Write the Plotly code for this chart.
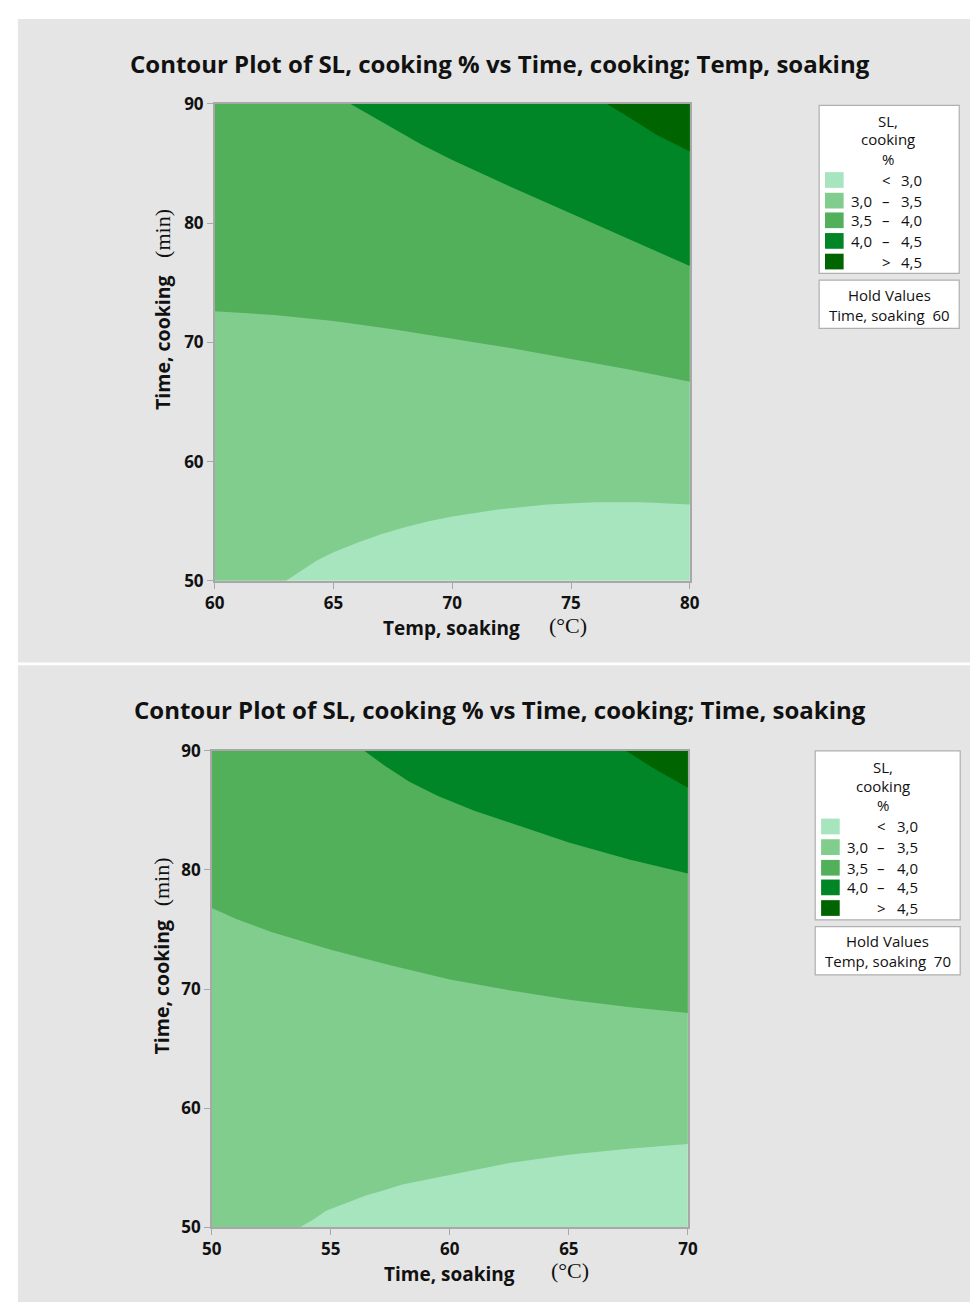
import plotly.graph_objects as go

# ---------------- data ----------------
levels = ["< 3,0", "3,0 – 3,5", "3,5 – 4,0", "4,0 – 4,5", "> 4,5"]
colors = ["#a6e5bd", "#80cd8e", "#52b05b", "#008626", "#006400"]

# top chart: x = Temp, soaking (60-80), y = Time, cooking (50-90), hold Time, soaking 60
top_xr = [60, 80]
top_yr = [50, 90]
top_b30_x = [63.0, 63.6, 64.3, 65.0, 66.0, 67.0, 68.0, 69.0, 70.0, 72.0, 74.0, 76.0, 78.0, 80.0]
top_b30_y = [50.0, 50.8, 51.7, 52.4, 53.2, 53.9, 54.5, 55.0, 55.4, 56.0, 56.4, 56.6, 56.6, 56.4]
top_b35_x = [60.0, 62.5, 65.0, 67.5, 70.0, 72.5, 75.0, 77.5, 80.0]
top_b35_y = [72.6, 72.3, 71.8, 71.1, 70.3, 69.5, 68.6, 67.7, 66.7]
top_b40_x = [65.7, 66.5, 67.5, 68.7, 70.0, 71.2, 72.5, 75.0, 77.5, 80.0]
top_b40_y = [90.0, 89.1, 88.0, 86.6, 85.3, 84.2, 83.0, 80.8, 78.6, 76.4]
top_b45_x = [76.5, 77.5, 78.6, 80.0]
top_b45_y = [90.0, 88.8, 87.4, 86.0]
top_xticks = [60, 65, 70, 75, 80]
top_yticks = [50, 60, 70, 80, 90]

# bottom chart: x = Time, soaking (50-70), y = Time, cooking (50-90), hold Temp, soaking 70
bot_xr = [50, 70]
bot_yr = [50, 90]
bot_b30_x = [53.7, 54.3, 54.8, 55.3, 55.8, 56.5, 57.2, 58.0, 59.0, 60.0, 62.5, 65.0, 67.5, 70.0]
bot_b30_y = [50.0, 50.7, 51.4, 51.8, 52.2, 52.7, 53.1, 53.6, 54.0, 54.4, 55.4, 56.1, 56.6, 57.0]
bot_b35_x = [50.0, 51.0, 52.5, 55.0, 57.5, 60.0, 62.5, 65.0, 67.5, 70.0]
bot_b35_y = [76.8, 75.9, 74.8, 73.3, 72.0, 70.8, 69.9, 69.1, 68.5, 68.0]
bot_b40_x = [56.4, 57.3, 58.3, 59.5, 61.0, 62.5, 65.0, 67.5, 70.0]
bot_b40_y = [90.0, 88.7, 87.4, 86.2, 85.0, 84.0, 82.3, 80.9, 79.7]
bot_b45_x = [67.4, 68.5, 70.0]
bot_b45_y = [90.0, 88.6, 86.9]
bot_xticks = [50, 55, 60, 65, 70]
bot_yticks = [50, 60, 70, 80, 90]

titles = ["Contour Plot of SL, cooking % vs Time, cooking; Temp, soaking",
          "Contour Plot of SL, cooking % vs Time, cooking; Time, soaking"]
xtitles = ["Temp, soaking", "Time, soaking"]
ytitle = "Time, cooking"
xunit = "(°C)"
yunit = "(min)"
hold_texts = ["Time, soaking  60", "Temp, soaking  70"]
legend_title = ["SL,", "cooking", "%"]

# ---------------- layout helpers ----------------
W, H = 980, 1313
SANS = "Open Sans, Noto Sans, sans-serif"
SERIF = "Liberation Serif, Times New Roman, serif"
GRAY = "#e5e5e5"
AX = "#a8a8a8"
INK = "#111111"


def px(x):
    return x / W


def py(y):
    return 1 - y / H


fig = go.Figure()
shapes = []
annotations = []

panels = [
    dict(xr=top_xr, yr=top_yr,
         bounds=[(top_b30_x, top_b30_y, "bottom"), (top_b35_x, top_b35_y, "left"),
                 (top_b40_x, top_b40_y, "top"), (top_b45_x, top_b45_y, "top")],
         xticks=top_xticks, yticks=top_yticks,
         plot=(209, 694, 93.5, 579), panel=(8, 980, 7, 662),
         title_y=52, xt=(451, 627), xu=(570, 624), yt=(155, 336), yu=(155, 225),
         leg=(826, 969, 95, 266), leg_cx=896, leg_ty=[111, 129, 150],
         sw=(832, 851), sw_y=[163, 184, 204, 225, 246], lab=(869.5, 894.5, 920.5),
         hold=(826, 969, 273, 322), hold_cx=898, hold_y=[288, 308]),
    dict(xr=bot_xr, yr=bot_yr,
         bounds=[(bot_b30_x, bot_b30_y, "bottom"), (bot_b35_x, bot_b35_y, "left"),
                 (bot_b40_x, bot_b40_y, "top"), (bot_b45_x, bot_b45_y, "top")],
         xticks=bot_xticks, yticks=bot_yticks,
         plot=(206, 692, 752, 1237), panel=(8, 980, 665, 1313),
         title_y=710, xt=(449, 1284), xu=(572, 1281), yt=(155, 992), yu=(155, 885),
         leg=(822, 970, 752, 924), leg_cx=891, leg_ty=[768, 788, 807],
         sw=(828, 847), sw_y=[821, 842, 863, 883, 904], lab=(865, 889.5, 916.5),
         hold=(822, 970, 931, 980), hold_cx=896, hold_y=[946, 966]),
]

for i, p in enumerate(panels):
    xa = "x" if i == 0 else "x2"
    ya = "y" if i == 0 else "y2"
    x0, x1 = p["xr"]
    y0, y1 = p["yr"]
    # panel background
    a, b, c, d = p["panel"]
    shapes.append(dict(type="rect", xref="paper", yref="paper", x0=px(a), x1=px(b),
                       y0=py(d), y1=py(c), fillcolor=GRAY, line_width=0, layer="below"))
    # lowest region: whole area
    fig.add_trace(go.Scatter(x=[x0, x1, x1, x0], y=[y0, y0, y1, y1], fill="toself",
                             fillcolor=colors[0], mode="lines", line=dict(width=0),
                             hoverinfo="skip", showlegend=False, xaxis=xa, yaxis=ya))
    # each level's region: boundary curve closed along the upper/right edges
    for k, (bx, by, start) in enumerate(p["bounds"]):
        xs = list(bx)
        ys = list(by)
        if start == "bottom":
            xs += [x1, x0, x0]
            ys += [y1, y1, y0]
        elif start == "left":
            xs += [x1, x0]
            ys += [y1, y1]
        else:  # starts on top edge, ends on right edge
            xs += [x1]
            ys += [y1]
        fig.add_trace(go.Scatter(x=xs, y=ys, fill="toself", fillcolor=colors[k + 1],
                                 mode="lines", line=dict(width=0),
                                 hoverinfo="skip", showlegend=False, xaxis=xa, yaxis=ya))
    l, r, t, bt = p["plot"]
    axis_common = dict(showgrid=False, zeroline=False, showline=True, mirror=True,
                       linecolor=AX, linewidth=1.5, ticks="outside", tickcolor=AX,
                       ticklen=6, tickwidth=1.2, fixedrange=True,
                       tickfont=dict(family=SANS, size=17, color=INK, weight="bold"))
    xkey = "xaxis" if i == 0 else "xaxis2"
    ykey = "yaxis" if i == 0 else "yaxis2"
    fig.update_layout(**{
        xkey: dict(axis_common, range=[x0, x1], tickvals=p["xticks"],
                   domain=[px(l), px(r)], anchor=ya),
        ykey: dict(axis_common, range=[y0, y1], tickvals=p["yticks"],
                   domain=[py(bt), py(t)], anchor=xa),
    })
    # titles
    annotations.append(dict(text=titles[i], x=px(500), y=py(p["title_y"]),
                            xref="paper", yref="paper", showarrow=False,
                            xanchor="center", yanchor="middle",
                            font=dict(family=SANS, size=24, color=INK, weight="bold")))
    annotations.append(dict(text=xtitles[i], x=px(p["xt"][0]), y=py(p["xt"][1]),
                            xref="paper", yref="paper", showarrow=False,
                            xanchor="center", yanchor="middle",
                            font=dict(family=SANS, size=19, color=INK, weight="bold")))
    annotations.append(dict(text=xunit, x=px(p["xu"][0]), y=py(p["xu"][1]),
                            xref="paper", yref="paper", showarrow=False,
                            xanchor="center", yanchor="middle",
                            font=dict(family=SERIF, size=22, color=INK)))
    annotations.append(dict(text=ytitle, x=px(p["yt"][0]), y=py(p["yt"][1]),
                            xref="paper", yref="paper", showarrow=False, textangle=-90,
                            xanchor="center", yanchor="middle",
                            font=dict(family=SANS, size=19.5, color=INK, weight="bold")))
    annotations.append(dict(text=yunit, x=px(p["yu"][0]), y=py(p["yu"][1]),
                            xref="paper", yref="paper", showarrow=False, textangle=-90,
                            xanchor="center", yanchor="middle",
                            font=dict(family=SERIF, size=22, color=INK)))
    # legend box
    la, lb, lc, ld = p["leg"]
    shapes.append(dict(type="rect", xref="paper", yref="paper", x0=px(la), x1=px(lb),
                       y0=py(ld), y1=py(lc), fillcolor="white",
                       line=dict(color="#b0b0b0", width=1.2)))
    for j, line in enumerate(legend_title):
        annotations.append(dict(text=line, x=px(p["leg_cx"]), y=py(p["leg_ty"][j]),
                                xref="paper", yref="paper", showarrow=False,
                                xanchor="center", yanchor="middle",
                                font=dict(family=SANS, size=15, color=INK)))
    sx0, sx1 = p["sw"]
    lx_left, lx_mid, lx_right = p["lab"]
    for j, lev in enumerate(levels):
        ty = p["sw_y"][j]
        shapes.append(dict(type="rect", xref="paper", yref="paper", x0=px(sx0),
                           x1=px(sx1), y0=py(ty + 16), y1=py(ty), fillcolor=colors[j],
                           line_width=0))
        cy = py(ty + 8)
        parts = lev.split(" ")
        if len(parts) == 2:
            cells = [(lx_mid, parts[0]), (lx_right, parts[1])]
        else:
            cells = [(lx_left, parts[0]), (lx_mid, parts[1]), (lx_right, parts[2])]
        for cx, txt in cells:
            annotations.append(dict(text=txt, x=px(cx), y=cy, xref="paper", yref="paper",
                                    showarrow=False, xanchor="center", yanchor="middle",
                                    font=dict(family=SANS, size=15, color=INK)))
    # hold values box
    ha, hb, hc, hd = p["hold"]
    shapes.append(dict(type="rect", xref="paper", yref="paper", x0=px(ha), x1=px(hb),
                       y0=py(hd), y1=py(hc), fillcolor="white",
                       line=dict(color="#b0b0b0", width=1.2)))
    for j, txt in enumerate(["Hold Values", hold_texts[i].replace("  ", "\u00a0\u00a0")]):
        annotations.append(dict(text=txt, x=px(p["hold_cx"]), y=py(p["hold_y"][j]),
                                xref="paper", yref="paper", showarrow=False,
                                xanchor="center", yanchor="middle",
                                font=dict(family=SANS, size=15, color=INK)))

fig.update_layout(autosize=True, margin=dict(l=0, r=0, t=0, b=0),
                  paper_bgcolor="white", plot_bgcolor="rgba(0,0,0,0)",
                  shapes=shapes, annotations=annotations, showlegend=False)

fig.write_html("out.html", default_width="100vw", default_height="100vh",
               config={"displayModeBar": False},
               post_script="document.body.style.margin='0';"
                           "document.documentElement.style.overflow='hidden';"
                           "document.body.style.overflow='hidden';")
